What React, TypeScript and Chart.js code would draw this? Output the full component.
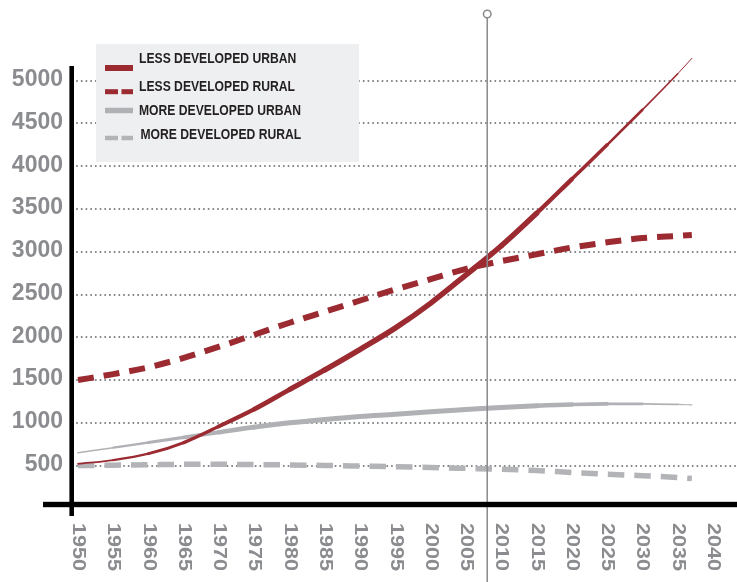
import React, { useEffect, useRef } from 'react';
import { Chart, registerables } from 'chart.js';

Chart.register(...registerables);

// ---- Data ----
const years = [1950, 1955, 1960, 1965, 1970, 1975, 1980, 1985, 1990, 1995, 2000, 2005, 2010, 2015, 2020, 2025, 2030, 2035, 2037];
const lessDevelopedUrban = [520, 565, 640, 770, 960, 1160, 1390, 1620, 1860, 2110, 2400, 2730, 3070, 3450, 3850, 4250, 4660, 5080, 5260];
const lessDevelopedRural = [1500, 1570, 1650, 1760, 1890, 2030, 2170, 2300, 2430, 2560, 2680, 2800, 2890, 2970, 3050, 3110, 3160, 3185, 3195];
const moreDevelopedUrban = [650, 710, 770, 830, 890, 950, 1000, 1040, 1075, 1100, 1130, 1155, 1180, 1200, 1215, 1222, 1222, 1215, 1210];
const moreDevelopedRural = [500, 505, 510, 515, 515, 512, 508, 502, 495, 488, 478, 468, 458, 443, 420, 400, 382, 362, 350];

const seriesLabels = ['LESS DEVELOPED URBAN', 'LESS DEVELOPED RURAL', 'MORE DEVELOPED URBAN', 'MORE DEVELOPED RURAL'];
const yTicks = [500, 1000, 1500, 2000, 2500, 3000, 3500, 4000, 4500, 5000];
const xTicks = [1950, 1955, 1960, 1965, 1970, 1975, 1980, 1985, 1990, 1995, 2000, 2005, 2010, 2015, 2020, 2025, 2030, 2035, 2040];
const markerYear = 2008;

// ---- Styles ----
const RED = '#9b2a31';
const GRAY_SOLID = '#b0b1b5';
const GRAY_DASH = '#b3b4b8';
const TICK_COLOR = '#8b8c8f';
const FONT = "'Liberation Sans', Arial, sans-serif";

const pts = (vals: number[]) => vals.map((v, i) => ({ x: years[i], y: v }));

const taperLDU = (m: number) => {
  if (m < 1985) return 1.5 + ((m - 1950) / 35) * 4;
  if (m <= 2012) return 5.5;
  return Math.max(0.8, 5.5 - ((m - 2012) / 25) * 4.7);
};
const taperMDU = (m: number) => {
  if (m < 1975) return 1.2 + ((m - 1950) / 25) * 3.8;
  if (m <= 2015) return 5;
  return Math.max(1, 5 - ((m - 2015) / 22) * 4);
};
const mid = (c: any) => (c.p0.parsed.x + c.p1.parsed.x) / 2;

const decorPlugin = {
  id: 'decor',
  beforeDatasetsDraw(chart: any) {
    const { ctx, scales, width } = chart;
    const x = scales.x;
    const y = scales.y;
    ctx.save();
    // dotted gridlines
    ctx.strokeStyle = '#7c7d80';
    ctx.lineWidth = 2;
    ctx.lineCap = 'round';
    ctx.setLineDash([0, 4.7]);
    yTicks.forEach((v) => {
      const py = Math.round(y.getPixelForValue(v));
      ctx.beginPath();
      ctx.moveTo(x.left - 1, py);
      ctx.lineTo(width, py);
      ctx.stroke();
    });
    ctx.restore();

    // legend box
    const datasets = chart.data.datasets;
    ctx.save();
    ctx.fillStyle = '#eeeff1';
    ctx.fillRect(96, 44, 263, 118);
    const swY = [68, 91.7, 110.5, 138];
    const swH = [6, 5, 5.5, 4.5];
    const txY = [58.5, 87, 111, 135];
    const txX = [139, 139, 139, 140.5];
    datasets.forEach((ds: any, i: number) => {
      ctx.fillStyle = ds.borderColor;
      if (ds.borderDash && ds.borderDash.length) {
        ctx.fillRect(105, swY[i] - swH[i] / 2, 13, swH[i]);
        ctx.fillRect(121.5, swY[i] - swH[i] / 2, 11.5, swH[i]);
      } else {
        ctx.fillRect(105, swY[i] - swH[i] / 2, 28, swH[i]);
      }
      ctx.save();
      ctx.translate(txX[i], txY[i]);
      ctx.scale(0.81, 1);
      ctx.fillStyle = '#231f20';
      ctx.font = `bold 15px ${FONT}`;
      ctx.textAlign = 'left';
      ctx.textBaseline = 'middle';
      ctx.fillText(ds.label, 0, 0);
      ctx.restore();
    });
    ctx.restore();
  },
  afterDatasetsDraw(chart: any) {
    const { ctx, scales, width, height } = chart;
    const x = scales.x;
    const y = scales.y;
    ctx.save();
    // marker line
    const mx = x.getPixelForValue(markerYear);
    ctx.strokeStyle = '#8a8a8c';
    ctx.lineWidth = 1.5;
    ctx.beginPath();
    ctx.moveTo(mx, 18);
    ctx.lineTo(mx, height);
    ctx.stroke();
    ctx.beginPath();
    ctx.arc(mx, 14, 3.8, 0, Math.PI * 2);
    ctx.fillStyle = '#ffffff';
    ctx.fill();
    ctx.stroke();

    // axes
    ctx.fillStyle = '#000000';
    ctx.fillRect(x.left - 8.6, 66, 4.6, 450);
    ctx.fillRect(43, 501.8, width - 43, 5.4);

    // y tick labels
    ctx.fillStyle = TICK_COLOR;
    ctx.font = `bold 23px ${FONT}`;
    ctx.textAlign = 'right';
    ctx.textBaseline = 'middle';
    yTicks.forEach((v) => {
      ctx.fillText(String(v), 63, y.getPixelForValue(v) - 1);
    });

    // x tick labels (rotated clockwise)
    ctx.font = `bold 18px ${FONT}`;
    ctx.textAlign = 'left';
    ctx.textBaseline = 'middle';
    xTicks.forEach((yr) => {
      const px = x.getPixelForValue(yr);
      ctx.save();
      ctx.translate(px, 523);
      ctx.rotate(Math.PI / 2);
      ctx.scale(1.2, 1);
      ctx.fillText(String(yr), 0, 0);
      ctx.restore();
    });
    ctx.restore();
  },
};

export default function App() {
  const ref = useRef<HTMLCanvasElement>(null);
  useEffect(() => {
    if (!ref.current) return;
    const chart = new Chart(ref.current, {
      type: 'line',
      data: {
        datasets: [
          {
            label: seriesLabels[0],
            data: pts(lessDevelopedUrban),
            borderColor: RED,
            backgroundColor: RED,
            borderWidth: 5.5,
            borderCapStyle: 'round',
            cubicInterpolationMode: 'monotone',
            segment: { borderWidth: (c: any) => taperLDU(mid(c)) },
            clip: false,
          },
          {
            label: seriesLabels[1],
            data: pts(lessDevelopedRural),
            borderColor: RED,
            backgroundColor: RED,
            borderWidth: 6,
            borderDash: [16, 10],
            cubicInterpolationMode: 'monotone',
            clip: false,
          },
          {
            label: seriesLabels[2],
            data: pts(moreDevelopedUrban),
            borderColor: GRAY_SOLID,
            backgroundColor: GRAY_SOLID,
            borderWidth: 5,
            borderCapStyle: 'round',
            cubicInterpolationMode: 'monotone',
            segment: { borderWidth: (c: any) => taperMDU(mid(c)) },
            clip: false,
          },
          {
            label: seriesLabels[3],
            data: pts(moreDevelopedRural),
            borderColor: GRAY_DASH,
            backgroundColor: GRAY_DASH,
            borderWidth: 5.5,
            borderDash: [16.5, 10],
            cubicInterpolationMode: 'monotone',
            clip: false,
          },
        ] as any,
      },
      options: {
        animation: false,
        responsive: false,
        maintainAspectRatio: false,
        layout: { padding: { left: 78, right: 24, top: 12.2, bottom: 73.6 } },
        plugins: { legend: { display: false }, tooltip: { enabled: false } },
        elements: { point: { radius: 0 } },
        scales: {
          x: { type: 'linear', min: 1950, max: 2040, display: false },
          y: { type: 'linear', min: 0, max: 5800, display: false },
        },
      } as any,
      plugins: [decorPlugin],
    });
    return () => chart.destroy();
  }, []);
  return (
    <div style={{ position: 'fixed', left: 0, top: 0, width: 737, height: 582, background: '#ffffff' }}>
      <canvas ref={ref} width={737} height={582} style={{ display: 'block' }} />
    </div>
  );
}
